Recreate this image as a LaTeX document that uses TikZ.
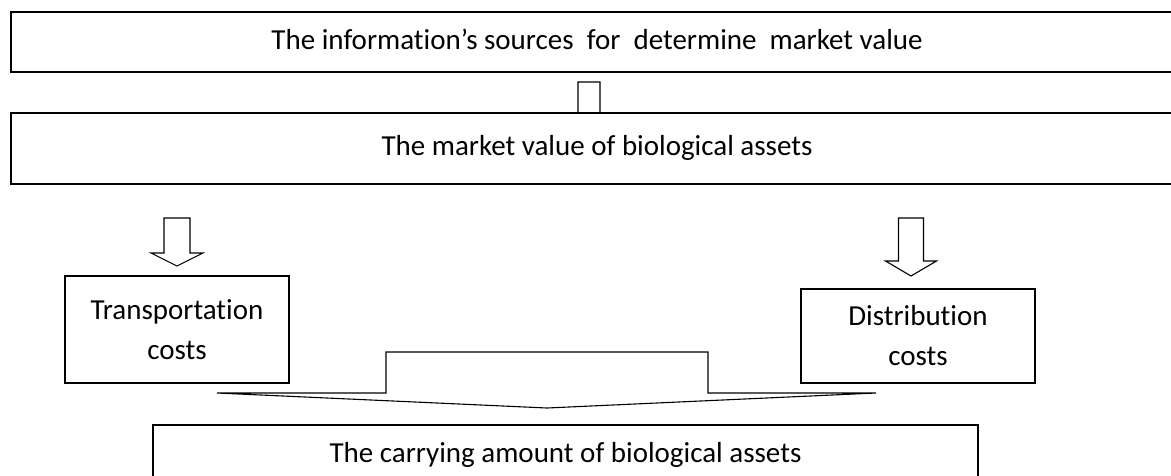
\documentclass[tikz,border=0pt]{standalone}
\usepackage{fontspec}
\setmainfont[Ligatures=NoCommon]{Carlito}
\usetikzlibrary{positioning}
\tikzstyle{box} = [rectangle, draw=black, line width=1.5pt, fill=white, inner sep=0pt, align=center]
\tikzstyle{line} = [text height=20pt, text depth=6pt]
\tikzstyle{hollow} = [draw=black, line width=1.1pt, fill=white, line join=miter]
\newcommand{\blockdown}[6]{\draw [hollow] (#1-#5,#2) -- (#1-#5,#3) -- (#1-#6,#3) -- (#1,#4) -- (#1+#6,#3) -- (#1+#5,#3) -- (#1+#5,#2) -- cycle;}

\begin{document}
\begin{tikzpicture}[x=1pt, y=-1pt, font=\fontsize{29}{40}\selectfont]

    \useasboundingbox (0,0) rectangle (1171,475);
    \clip (0,0) rectangle (1171,475);

    \node (srcbox) [box, line, minimum width=1172pt, minimum height=60pt] at (597,42) {The information’s sources\ \ for\ \ determine\ \ market value};
    \blockdown{589}{82}{125}{135}{11}{22}
    \node (mvbox) [box, line, minimum width=1172pt, minimum height=71pt] at (597,148.5) {The market value of biological assets};

    \blockdown{177}{218}{253}{266}{13}{26}
    \blockdown{911}{218}{261}{276}{12.5}{25.5}

    \node (transbox) [box, minimum width=224pt, minimum height=107pt] at (177,329.5) {Transportation\\costs};
    \node (distbox) [box, minimum width=234pt, minimum height=94pt] at (918,336) {Distribution\\costs};

    \draw [hollow] (217,393) -- (386,393) -- (386,352) -- (708,352) -- (708,393) -- (876,393) -- (547,408) -- cycle;

    \node (carrybox) [box, line, minimum width=825pt, minimum height=60pt] at (565.5,455) {The carrying amount of biological assets};

\end{tikzpicture}
\end{document}
